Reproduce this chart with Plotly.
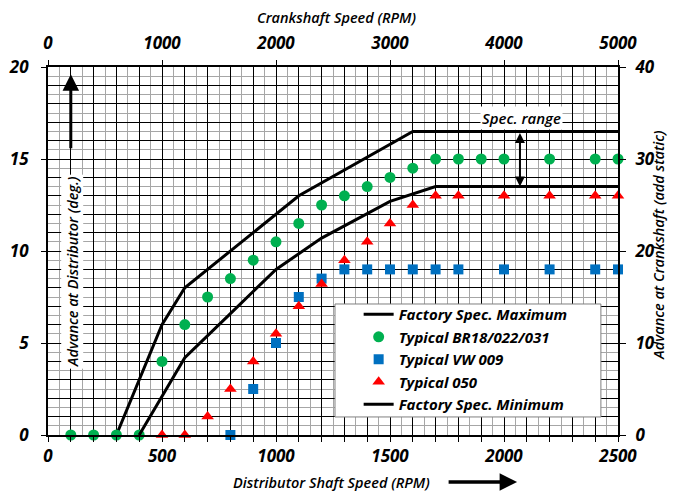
import plotly.graph_objects as go

# ---------------- data ----------------
rpm_max = [300, 500, 600, 800, 1000, 1100, 1600, 2500]
adv_max = [0, 6, 8, 10, 12, 13, 16.5, 16.5]

rpm_min = [400, 600, 800, 1000, 1200, 1500, 1700, 2500]
adv_min = [0, 4.2, 6.6, 9, 10.7, 12.7, 13.5, 13.5]

rpm_br18 = [100, 200, 300, 400, 500, 600, 700, 800, 900, 1000, 1100, 1200,
            1300, 1400, 1500, 1600, 1700, 1800, 1900, 2000, 2200, 2400, 2500]
adv_br18 = [0, 0, 0, 0, 4, 6, 7.5, 8.5, 9.5, 10.5, 11.5, 12.5,
            13, 13.5, 14, 14.5, 15, 15, 15, 15, 15, 15, 15]

rpm_vw = [800, 900, 1000, 1100, 1200, 1300, 1400, 1500, 1600, 1700, 1800,
          2000, 2200, 2400, 2500]
adv_vw = [0, 2.5, 5, 7.5, 8.5, 9, 9, 9, 9, 9, 9, 9, 9, 9, 9]

rpm_050 = [500, 600, 700, 800, 900, 1000, 1100, 1200, 1300, 1400, 1500, 1600,
           1700, 1800, 2000, 2200, 2400, 2500]
adv_050 = [0, 0, 1, 2.5, 4, 5.5, 7, 8.2, 9.5, 10.5, 11.5, 12.5,
           13, 13, 13, 13, 13, 13]

x_ticks = list(range(0, 2501, 100))
x_labels = [str(v) if v % 500 == 0 else "" for v in x_ticks]
y_ticks = list(range(0, 21, 1))
y_labels = [str(v) if v % 5 == 0 else "" for v in y_ticks]
top_ticks = list(range(0, 5001, 1000))
right_ticks = list(range(0, 41, 10))

FONT = "Open Sans"
bi = dict(family=FONT, color="black", weight="bold", style="italic")
bi6 = dict(family=FONT, color="black", weight=600, style="italic")
TICKF = dict(size=17, **bi)
TITLEF = dict(size=14.5, **bi6)

fig = go.Figure()

fig.add_trace(go.Scatter(x=rpm_max, y=adv_max, mode="lines",
                         name="Factory Spec. Maximum",
                         line=dict(color="black", width=3), cliponaxis=False))
fig.add_trace(go.Scatter(x=rpm_br18, y=adv_br18, mode="markers",
                         name="Typical BR18/022/031",
                         marker=dict(symbol="circle", size=11, color="#00B050"),
                         cliponaxis=False))
fig.add_trace(go.Scatter(x=rpm_vw, y=adv_vw, mode="markers",
                         name="Typical VW 009",
                         marker=dict(symbol="square", size=10, color="#0070C0"),
                         cliponaxis=False))
fig.add_trace(go.Scatter(x=rpm_050, y=adv_050, mode="markers",
                         name="Typical 050",
                         marker=dict(symbol="triangle-up", size=11, color="#FF0000"),
                         cliponaxis=False))
fig.add_trace(go.Scatter(x=rpm_min, y=adv_min, mode="lines",
                         name="Factory Spec. Minimum",
                         line=dict(color="black", width=3), cliponaxis=False))

# dummy traces so the secondary axes render
fig.add_trace(go.Scatter(x=[None], y=[None], xaxis="x2", yaxis="y2",
                         showlegend=False, hoverinfo="skip"))
fig.add_trace(go.Scatter(x=[None], y=[None], xaxis="x", yaxis="y3",
                         showlegend=False, hoverinfo="skip"))

# page body has an 8px margin: offset margins accordingly
fig.update_layout(
    width=677, height=497,
    margin=dict(l=40, r=67, t=59, b=70, autoexpand=False),
    paper_bgcolor="white", plot_bgcolor="white",
    showlegend=True,
    legend=dict(x=0.545, y=0.372, xanchor="left", yanchor="top",
                bgcolor="rgba(0,0,0,0)", borderwidth=0,
                font=dict(size=15, **bi), itemwidth=30, tracegroupgap=0),
    xaxis=dict(range=[0, 2500], tickmode="array", tickvals=x_ticks,
               ticktext=x_labels, ticks="outside", ticklen=5, tickwidth=1,
               tickcolor="black", tickfont=TICKF, ticklabelstandoff=0,
               showgrid=True, gridcolor="black", gridwidth=1.2,
               minor=dict(tickmode="linear", tick0=0, dtick=50, showgrid=True,
                          gridcolor="#a6a6a6", gridwidth=1, ticks=""),
               showline=True, linecolor="black", linewidth=2,
               zeroline=False, automargin=False),
    xaxis2=dict(range=[0, 5000], overlaying="x", side="top", anchor="y",
                tickmode="array", tickvals=top_ticks,
                ticks="outside", ticklen=5, tickcolor="black",
                tickfont=TICKF, ticklabelstandoff=4, showgrid=False,
                showline=True, linecolor="black", linewidth=2, zeroline=False,
                automargin=False),
    yaxis=dict(range=[0, 20], tickmode="array", tickvals=y_ticks,
               ticktext=y_labels, ticks="", tickfont=TICKF,
               showgrid=True, gridcolor="black", gridwidth=1.2,
               minor=dict(tickmode="linear", tick0=0, dtick=0.5, showgrid=True,
                          gridcolor="#a6a6a6", gridwidth=1, ticks=""),
               showline=True, linecolor="black", linewidth=2,
               zeroline=False, ticklabelstandoff=14, automargin=False),
    yaxis2=dict(range=[0, 40], overlaying="y", side="right", anchor="x",
                tickmode="array", tickvals=right_ticks, ticks="outside",
                ticklen=6, tickcolor="black", tickfont=TICKF,
                ticklabelstandoff=6,
                showgrid=False, showline=True, linecolor="black", linewidth=2,
                zeroline=False, automargin=False),
    yaxis3=dict(range=[0, 20], overlaying="y", side="left", anchor="x",
                tickmode="array", tickvals=[0, 5, 10, 15, 20], ticks="outside",
                ticklen=6, tickcolor="black", showticklabels=False,
                showgrid=False, showline=False, zeroline=False, automargin=False),
)

# legend frame
fig.add_shape(type="rect", xref="paper", yref="paper",
              x0=0.5035, x1=0.970, y0=0.049, y1=0.356,
              line=dict(color="#7f7f7f", width=1), fillcolor="white",
              layer="above")

# axis titles as annotations
fig.add_annotation(text="Crankshaft Speed (RPM)", xref="paper", yref="paper",
                   x=0.507, y=1, yanchor="middle", yshift=50, showarrow=False,
                   font=TITLEF)
fig.add_annotation(text="Distributor Shaft Speed (RPM)", xref="paper",
                   yref="paper", x=0.4965, y=0, yanchor="middle", yshift=-47,
                   showarrow=False, font=TITLEF)
# arrow after bottom title
fig.add_annotation(xref="paper", yref="paper", x=0.823, y=0, yshift=-47,
                   ax=-70, ay=0, showarrow=True, arrowhead=2, arrowsize=1,
                   arrowwidth=3.5, arrowcolor="black", text="")
fig.add_annotation(text="Advance at Crankshaft (add static)", xref="paper",
                   yref="paper", x=1.072, y=0.514, xanchor="center",
                   yanchor="middle", textangle=-90, showarrow=False,
                   font=TITLEF)
fig.add_annotation(text="Advance at Distributor (deg.)", xref="x", yref="y",
                   x=105, y=8.9, textangle=-90, showarrow=False,
                   bgcolor="white", font=TITLEF)
# up arrow on left
fig.add_annotation(xref="x", yref="y", x=100, y=19.6, axref="x", ayref="y",
                   ax=100, ay=15.5, showarrow=True, arrowhead=2, arrowsize=1.1,
                   arrowwidth=3, arrowcolor="black", text="")
# spec range
fig.add_annotation(text="Spec. range", xref="x", yref="y", x=2075, y=17.25,
                   showarrow=False, bgcolor="white", font=dict(size=15, **bi6))
fig.add_annotation(xref="x", yref="y", x=2070, y=13.5, axref="x", ayref="y",
                   ax=2070, ay=16.5, showarrow=True, arrowhead=2,
                   startarrowhead=2, arrowside="end+start", arrowsize=1,
                   startarrowsize=1, arrowwidth=2, arrowcolor="black", text="")

fig.write_html("out.html")
